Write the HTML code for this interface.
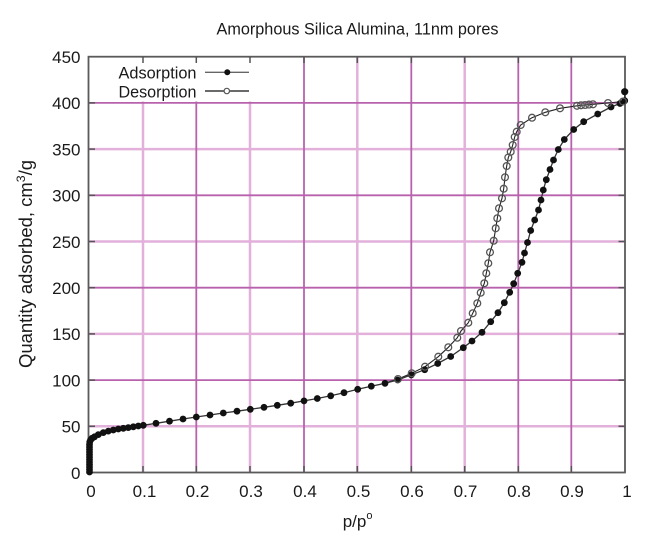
<!DOCTYPE html>
<html>
<head>
<meta charset="utf-8">
<style>
html,body{margin:0;padding:0;background:#fff;}
svg{display:block;}
text{font-family:"Liberation Sans",Arial,sans-serif;fill:#1a1a1a;}
</style>
</head>
<body>
<svg width="667" height="545" viewBox="0 0 667 545" xmlns="http://www.w3.org/2000/svg">
<rect x="0" y="0" width="667" height="545" fill="#fff"/>

<!-- Title -->
<text x="357.5" y="34.5" font-size="17" text-anchor="middle" textLength="282" lengthAdjust="spacingAndGlyphs">Amorphous Silica Alumina, 11nm pores</text>

<!-- Grid: light lines -->
<g stroke="#e2b0da" stroke-width="2.5" fill="none">
  <line x1="143" y1="56.7" x2="143" y2="472.5"/>
  <line x1="250" y1="56.7" x2="250" y2="472.5"/>
  <line x1="357.3" y1="56.7" x2="357.3" y2="472.5"/>
  <line x1="464.7" y1="56.7" x2="464.7" y2="472.5"/>
  <line x1="88.5" y1="426.3" x2="625" y2="426.3"/>
  <line x1="88.5" y1="333.9" x2="625" y2="333.9"/>
  <line x1="88.5" y1="241.5" x2="625" y2="241.5"/>
  <line x1="88.5" y1="149.1" x2="625" y2="149.1"/>
</g>
<!-- Grid: dark lines -->
<g stroke="#b862ad" stroke-width="1.8" fill="none">
  <line x1="196.3" y1="56.7" x2="196.3" y2="472.5"/>
  <line x1="304" y1="56.7" x2="304" y2="472.5"/>
  <line x1="411.3" y1="56.7" x2="411.3" y2="472.5"/>
  <line x1="518.3" y1="56.7" x2="518.3" y2="472.5"/>
  <line x1="571.3" y1="56.7" x2="571.3" y2="472.5"/>
  <line x1="88.5" y1="380.1" x2="625" y2="380.1"/>
  <line x1="88.5" y1="287.7" x2="625" y2="287.7"/>
  <line x1="88.5" y1="195.3" x2="625" y2="195.3"/>
  <line x1="88.5" y1="102.9" x2="625" y2="102.9"/>
</g>

<!-- Legend background -->
<rect x="90" y="58" width="200" height="43.5" fill="#fff"/>

<!-- Ticks (inward, mirrored) -->
<g stroke="#555" stroke-width="1.5">
  <line x1="143" y1="57" x2="143" y2="63"/>
  <line x1="196.3" y1="57" x2="196.3" y2="63"/>
  <line x1="250" y1="57" x2="250" y2="63"/>
  <line x1="304" y1="57" x2="304" y2="63"/>
  <line x1="357.3" y1="57" x2="357.3" y2="63"/>
  <line x1="411.3" y1="57" x2="411.3" y2="63"/>
  <line x1="464.7" y1="57" x2="464.7" y2="63"/>
  <line x1="518.3" y1="57" x2="518.3" y2="63"/>
  <line x1="571.3" y1="57" x2="571.3" y2="63"/>
  <line x1="143" y1="472" x2="143" y2="466"/>
  <line x1="196.3" y1="472" x2="196.3" y2="466"/>
  <line x1="250" y1="472" x2="250" y2="466"/>
  <line x1="304" y1="472" x2="304" y2="466"/>
  <line x1="357.3" y1="472" x2="357.3" y2="466"/>
  <line x1="411.3" y1="472" x2="411.3" y2="466"/>
  <line x1="464.7" y1="472" x2="464.7" y2="466"/>
  <line x1="518.3" y1="472" x2="518.3" y2="466"/>
  <line x1="571.3" y1="472" x2="571.3" y2="466"/>
  <line x1="89" y1="426.3" x2="95" y2="426.3"/>
  <line x1="89" y1="380.1" x2="95" y2="380.1"/>
  <line x1="89" y1="333.9" x2="95" y2="333.9"/>
  <line x1="89" y1="287.7" x2="95" y2="287.7"/>
  <line x1="89" y1="241.5" x2="95" y2="241.5"/>
  <line x1="89" y1="195.3" x2="95" y2="195.3"/>
  <line x1="89" y1="149.1" x2="95" y2="149.1"/>
  <line x1="89" y1="102.9" x2="95" y2="102.9"/>
  <line x1="624.5" y1="426.3" x2="618.5" y2="426.3"/>
  <line x1="624.5" y1="380.1" x2="618.5" y2="380.1"/>
  <line x1="624.5" y1="333.9" x2="618.5" y2="333.9"/>
  <line x1="624.5" y1="287.7" x2="618.5" y2="287.7"/>
  <line x1="624.5" y1="241.5" x2="618.5" y2="241.5"/>
  <line x1="624.5" y1="195.3" x2="618.5" y2="195.3"/>
  <line x1="624.5" y1="149.1" x2="618.5" y2="149.1"/>
  <line x1="624.5" y1="102.9" x2="618.5" y2="102.9"/>
</g>

<!-- Frame -->
<rect x="88.5" y="56.7" width="536.5" height="415.8" fill="none" stroke="#5a5a5a" stroke-width="1.8"/>

<!-- Y tick labels -->
<g font-size="17" text-anchor="end">
  <text x="80.5" y="63">450</text>
  <text x="80.5" y="109.2">400</text>
  <text x="80.5" y="155.4">350</text>
  <text x="80.5" y="201.6">300</text>
  <text x="80.5" y="247.8">250</text>
  <text x="80.5" y="294">200</text>
  <text x="80.5" y="340.2">150</text>
  <text x="80.5" y="386.4">100</text>
  <text x="80.5" y="432.6">50</text>
  <text x="80.5" y="478.8">0</text>
</g>

<!-- X tick labels -->
<g font-size="17" text-anchor="middle">
  <text x="91" y="497">0</text>
  <text x="144.5" y="497">0.1</text>
  <text x="197.5" y="497">0.2</text>
  <text x="251" y="497">0.3</text>
  <text x="305" y="497">0.4</text>
  <text x="358.5" y="497">0.5</text>
  <text x="412" y="497">0.6</text>
  <text x="465.5" y="497">0.7</text>
  <text x="519" y="497">0.8</text>
  <text x="572" y="497">0.9</text>
  <text x="627" y="497">1</text>
</g>

<!-- X axis label -->
<text x="342.7" y="527" font-size="17">p/p<tspan font-size="11" dy="-8">o</tspan></text>

<!-- Y axis label -->
<text transform="translate(32,368) rotate(-90)" x="0" y="0" font-size="18" textLength="208" lengthAdjust="spacingAndGlyphs">Quantity adsorbed, cm<tspan font-size="12" dy="-7">3</tspan><tspan dy="7">/g</tspan></text>

<!-- Legend -->
<text x="196.5" y="78.3" font-size="17" text-anchor="end" textLength="78" lengthAdjust="spacingAndGlyphs">Adsorption</text>
<text x="196.5" y="97.5" font-size="17" text-anchor="end" textLength="78" lengthAdjust="spacingAndGlyphs">Desorption</text>
<line x1="205" y1="72.3" x2="249" y2="72.3" stroke="#666" stroke-width="1.3"/>
<circle cx="227.3" cy="72.3" r="3" fill="#111"/>
<line x1="205" y1="91" x2="249" y2="91" stroke="#111" stroke-width="1.3"/>
<circle cx="226.8" cy="91" r="2.7" fill="#fff" stroke="#555" stroke-width="1.2"/>

<!-- Desorption line -->
<polyline fill="none" stroke="#222" stroke-width="1.1" points="623,101.5 608,103 593,104.3 589,104.6 585,105 581,105.3 577,105.8 560,108.3 545.3,112.3 532,117.7 520.7,125 516.7,131.7 514.7,137 512.7,145 510.7,151.7 508.3,157.5 506.7,166 505,177.3 503.7,188.7 502,198.3 499,208.3 497.3,218.3 495.7,228.3 493.7,240.7 490,252.3 488.3,263.3 486.3,273.3 484.3,283.3 480.7,292.7 477.3,303.3 472.7,313.3 468.3,322.7 461,331 457.3,337.7 448.3,347.3 438.3,356.7 425,366.7 411.7,373.3 398,379 385,383"/>

<!-- Adsorption line -->
<polyline fill="none" stroke="#333" stroke-width="1.3" points="89.5,472 89.5,442 90.5,440 92,438.3 94.5,436.8 98.3,434.6 103.3,432.6 108.3,431.1 113.3,430 118.3,429 123.3,428.3 128.3,427.6 133.3,426.8 138.3,426 143.3,425.3 156,423.3 169.5,421.2 183,419 196.3,417 210,415 223.3,413 237,411.2 250.3,409.3 264,407.3 277.3,405.3 290.7,403.2 304,400.9 317.3,398.5 330.7,395.8 344,392.7 357.7,389.3 371.3,386.2 385,383.3 397.7,380 411.3,374.8 424.7,369.7 437.7,363.5 450.7,356.5 463.3,347.7 472,341 482,332.3 490.7,321.7 498,312.7 504.3,302.7 509.7,292.3 513.7,283.7 517.7,273.3 522,262.3 524.5,253 527.5,242.5 530.7,230.5 534.7,220 538.5,210 541,200 543.3,190 546.3,179.7 550,169.5 553.5,160 558.3,149.5 564.3,139.5 573.7,129.5 583.7,121.7 597.7,114 611,107 620,103.5 624.7,100.7 624.7,91.7"/>

<!-- Adsorption markers -->
<g fill="#111">
  <circle cx="89.5" cy="472" r="3.4"/><circle cx="89.5" cy="469.5" r="3.4"/><circle cx="89.5" cy="467" r="3.4"/><circle cx="89.5" cy="464.5" r="3.4"/><circle cx="89.5" cy="462" r="3.4"/><circle cx="89.5" cy="459.5" r="3.4"/><circle cx="89.5" cy="457" r="3.4"/><circle cx="89.5" cy="454.5" r="3.4"/><circle cx="89.5" cy="452" r="3.4"/><circle cx="89.5" cy="449.5" r="3.4"/><circle cx="89.5" cy="447" r="3.4"/><circle cx="89.5" cy="444.5" r="3.4"/><circle cx="89.7" cy="442" r="3.4"/>
  <circle cx="90.5" cy="440" r="3.4"/><circle cx="92" cy="438.3" r="3.4"/><circle cx="94.5" cy="436.8" r="3.4"/><circle cx="98.3" cy="434.6" r="3.4"/><circle cx="103.3" cy="432.6" r="3.4"/><circle cx="108.3" cy="431.1" r="3.4"/><circle cx="113.3" cy="430" r="3.4"/><circle cx="118.3" cy="429" r="3.4"/><circle cx="123.3" cy="428.3" r="3.4"/><circle cx="128.3" cy="427.6" r="3.4"/><circle cx="133.3" cy="426.8" r="3.4"/><circle cx="138.3" cy="426" r="3.4"/><circle cx="143.3" cy="425.3" r="3.4"/>
  <circle cx="156" cy="423.3" r="3.4"/><circle cx="169.5" cy="421.2" r="3.4"/><circle cx="183" cy="419" r="3.4"/><circle cx="196.3" cy="417" r="3.4"/><circle cx="210" cy="415" r="3.4"/><circle cx="223.3" cy="413" r="3.4"/><circle cx="237" cy="411.2" r="3.4"/><circle cx="250.3" cy="409.3" r="3.4"/><circle cx="264" cy="407.3" r="3.4"/><circle cx="277.3" cy="405.3" r="3.4"/><circle cx="290.7" cy="403.2" r="3.4"/><circle cx="304" cy="400.9" r="3.4"/><circle cx="317.3" cy="398.5" r="3.4"/><circle cx="330.7" cy="395.8" r="3.4"/><circle cx="344" cy="392.7" r="3.4"/><circle cx="357.7" cy="389.3" r="3.4"/><circle cx="371.3" cy="386.2" r="3.4"/><circle cx="385" cy="383.3" r="3.4"/><circle cx="397.7" cy="380" r="3.4"/>
  <circle cx="411.3" cy="374.8" r="3.4"/><circle cx="424.7" cy="369.7" r="3.4"/><circle cx="437.7" cy="363.5" r="3.4"/><circle cx="450.7" cy="356.5" r="3.4"/><circle cx="463.3" cy="347.7" r="3.4"/><circle cx="472" cy="341" r="3.4"/><circle cx="482" cy="332.3" r="3.4"/><circle cx="490.7" cy="321.7" r="3.4"/><circle cx="498" cy="312.7" r="3.4"/><circle cx="504.3" cy="302.7" r="3.4"/><circle cx="509.7" cy="292.3" r="3.4"/><circle cx="513.7" cy="283.7" r="3.4"/><circle cx="517.7" cy="273.3" r="3.4"/><circle cx="522" cy="262.3" r="3.4"/><circle cx="524.5" cy="253" r="3.4"/><circle cx="527.5" cy="242.5" r="3.4"/><circle cx="530.7" cy="230.5" r="3.4"/><circle cx="534.7" cy="220" r="3.4"/><circle cx="538.5" cy="210" r="3.4"/><circle cx="541" cy="200" r="3.4"/><circle cx="543.3" cy="190" r="3.4"/><circle cx="546.3" cy="179.7" r="3.4"/><circle cx="550" cy="169.5" r="3.4"/><circle cx="553.5" cy="160" r="3.4"/><circle cx="558.3" cy="149.5" r="3.4"/><circle cx="564.3" cy="139.5" r="3.4"/><circle cx="573.7" cy="129.5" r="3.4"/><circle cx="583.7" cy="121.7" r="3.4"/><circle cx="597.7" cy="114" r="3.4"/><circle cx="611" cy="107" r="3.4"/><circle cx="620" cy="103.5" r="3.4"/><circle cx="624.7" cy="100.7" r="3.4"/><circle cx="624.7" cy="91.7" r="3.6"/>
</g>

<!-- Desorption markers -->
<g fill="none" stroke="#555" stroke-width="1.3">
  <circle cx="623" cy="101.5" r="3.4"/><circle cx="608" cy="103" r="3.4"/><circle cx="593" cy="104.3" r="3.4"/><circle cx="589" cy="104.6" r="3.4"/><circle cx="585" cy="105" r="3.4"/><circle cx="581" cy="105.3" r="3.4"/><circle cx="577" cy="105.8" r="3.4"/><circle cx="560" cy="108.3" r="3.4"/><circle cx="545.3" cy="112.3" r="3.4"/><circle cx="532" cy="117.7" r="3.4"/><circle cx="520.7" cy="125" r="3.4"/><circle cx="516.7" cy="131.7" r="3.4"/><circle cx="514.7" cy="137" r="3.4"/><circle cx="512.7" cy="145" r="3.4"/><circle cx="510.7" cy="151.7" r="3.4"/><circle cx="508.3" cy="157.5" r="3.4"/><circle cx="506.7" cy="166" r="3.4"/><circle cx="505" cy="177.3" r="3.4"/><circle cx="503.7" cy="188.7" r="3.4"/><circle cx="502" cy="198.3" r="3.4"/><circle cx="499" cy="208.3" r="3.4"/><circle cx="497.3" cy="218.3" r="3.4"/><circle cx="495.7" cy="228.3" r="3.4"/><circle cx="493.7" cy="240.7" r="3.4"/><circle cx="490" cy="252.3" r="3.4"/><circle cx="488.3" cy="263.3" r="3.4"/><circle cx="486.3" cy="273.3" r="3.4"/><circle cx="484.3" cy="283.3" r="3.4"/><circle cx="480.7" cy="292.7" r="3.4"/><circle cx="477.3" cy="303.3" r="3.4"/><circle cx="472.7" cy="313.3" r="3.4"/><circle cx="468.3" cy="322.7" r="3.4"/><circle cx="461" cy="331" r="3.4"/><circle cx="457.3" cy="337.7" r="3.4"/><circle cx="448.3" cy="347.3" r="3.4"/><circle cx="438.3" cy="356.7" r="3.4"/><circle cx="425" cy="366.7" r="3.4"/><circle cx="411.7" cy="373.3" r="3.4"/><circle cx="398" cy="379" r="3.4"/>
</g>
</svg>
</body>
</html>
